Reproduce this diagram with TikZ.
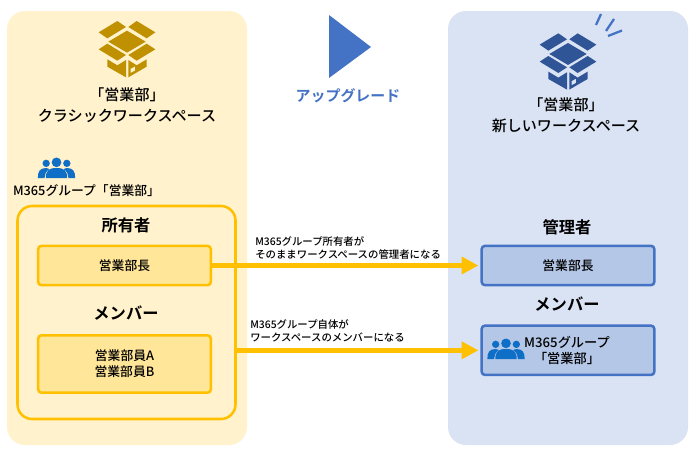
\documentclass[tikz,border=0pt]{standalone}
\usepackage{fontspec}
\setmainfont{Noto Sans CJK JP Medium}[BoldFont={Noto Sans CJK JP Bold}]
\definecolor{panelY}{HTML}{FFF2CC}
\definecolor{panelB}{HTML}{DAE3F3}
\definecolor{gold}{HTML}{FFC000}
\definecolor{boxY}{HTML}{FFE699}
\definecolor{boxB}{HTML}{B4C7E7}
\definecolor{edgeB}{HTML}{4472C4}
\definecolor{iconY}{HTML}{BF9000}
\definecolor{iconB}{HTML}{2F5597}
\definecolor{people}{HTML}{0F6FC6}
\usetikzlibrary{arrows.meta}
\tikzset{
  x=0.75pt,y=-0.75pt,
  panel/.style={rounded corners=13.5pt},
  orangebox/.style={draw=gold,line width=1.9pt,fill=boxY,rounded corners=2.5pt},
  bluebox/.style={draw=edgeB,line width=1.9pt,fill=boxB,rounded corners=2.5pt},
  flow/.style={draw=gold,line width=3.9pt,shorten >=1.5pt,-{Triangle[length=12.5pt,width=12.5pt]}},
  head/.style={font=\fontsize{12.2pt}{15pt}\selectfont\bfseries,text=black,inner sep=0pt},
  title/.style={font=\fontsize{11.3pt}{15.5pt}\selectfont,text=black,align=center,inner sep=0pt},
  label/.style={font=\fontsize{9.6pt}{12pt}\selectfont,text=black,align=center,inner sep=0pt},
  grouplabel/.style={font=\fontsize{9.6pt}{12pt}\selectfont,text=black,align=center,inner sep=0pt},
  small/.style={font=\fontsize{7.8pt}{10pt}\selectfont,text=black,align=left,inner sep=0pt,anchor=west},
}
\newcommand{\boxicon}[3]{%
\begin{scope}[shift={(#1,#2)},x=0.25pt,y=-0.25pt]
 \fill[#3] (296,97)--(352,63)--(378,81)--(322,115)--cycle;
 \fill[#3] (410,63)--(466,97)--(440,115)--(385,81)--cycle;
 \fill[#3] (381,92)--(437,125)--(381,158)--(325,125)--cycle;
 \fill[#3] (296,148)--(322,131)--(378,165)--(352,182)--cycle;
 \fill[#3] (385,165)--(440,131)--(466,148)--(410,182)--cycle;
 \fill[#3] (322,178)--(352,196)--(378,180)--(378,232)--(322,200)--cycle;
 \fill[#3,even odd rule] (385,180)--(410,196)--(440,178)--(440,200)--(385,232)--cycle
   (392,206)--(405,199)--(405,212)--(392,219)--cycle;
\end{scope}}
\newcommand{\peopleicon}[2]{%
\begin{scope}[shift={(#1,#2)},x=0.25pt,y=-0.25pt,fill=people]
 \fill (-31,-29) circle[radius=11];
 \fill (31,-29) circle[radius=11];
 \fill (0,-32) circle[radius=14.5];
 \fill (-56,15) .. controls (-56,-5) and (-50,-15) .. (-31,-15) .. controls (-27,-15) and (-24,-14) .. (-21,-12) .. controls (-32,-5) and (-36,5) .. (-36,15) -- cycle;
 \fill (56,15) .. controls (56,-5) and (50,-15) .. (31,-15) .. controls (27,-15) and (24,-14) .. (21,-12) .. controls (32,-5) and (36,5) .. (36,15) -- cycle;
 \fill (-32,15) .. controls (-32,-8) and (-22,-15) .. (0,-15) .. controls (22,-15) and (32,-8) .. (32,15) -- cycle;
\end{scope}}
\begin{document}
\begin{tikzpicture}
\useasboundingbox (0,0) rectangle (697,457);
\fill[white] (0,0) rectangle (697,457);
% panels
\fill[panelY,panel] (7,11) rectangle (247,445);
\fill[panelB,panel] (448,11) rectangle (688,445);
% icons
\boxicon{0}{0}{iconY}
\boxicon{441}{12.3}{iconB}
\draw[edgeB,line width=1.7pt] (596,25) -- (601,14) (606,31) -- (614,19) (608,36) -- (622,30.5);
\fill[edgeB] (329,15) -- (371,47) -- (329,78) -- cycle;
\node[font=\fontsize{11.2pt}{13pt}\selectfont\bfseries,text=edgeB,inner sep=0pt] (up) at (348,96) {アップグレード};
\node[title] (ttlL) at (127,105) {「営業部」\\クラシックワークスペース};
\node[title] (ttlR) at (566,115) {「営業部」\\新しいワークスペース};
% group
\peopleicon{56.5}{173}
\node[grouplabel] (grp) at (86.5,191) {M365グループ「営業部」};
\draw[gold,line width=1.9pt,rounded corners=11pt] (17.5,206) rectangle (235.5,419);
\node[head] (ownH) at (126,225) {所有者};
\node[head] (memH) at (126,313) {メンバー};
\node[head] (admH) at (567,227) {管理者};
\node[head] (mem2H) at (567,304) {メンバー};
\node[orangebox,minimum width=129.5pt,minimum height=29.5pt,label] (a) at (124.5,265.5) {営業部長};
\node[orangebox,minimum width=129.5pt,minimum height=43pt,label] (b) at (124.5,364) {営業部員A\\営業部員B};
\node[bluebox,minimum width=129.5pt,minimum height=29.5pt,label] (c) at (568,265.5) {営業部長};
\node[bluebox,minimum width=129.5pt,minimum height=37pt,label] (d) at (568,350.3) {};
\peopleicon{506}{354}
\node[label,font=\fontsize{9.9pt}{12pt}\selectfont] (dt) at (567,350) {M365グループ\\「営業部」};
\coordinate (gs) at (235.5,350.3);
\draw[flow] (a.east) -- (c.west);
\draw[flow] (gs) -- (d.west);
\node[small] (t1) at (255,248) {M365グループ所有者が\\そのままワークスペースの管理者になる};
\node[small] (t2) at (250,331) {M365グループ自体が\\ワークスペースのメンバーになる};
\end{tikzpicture}
\end{document}
